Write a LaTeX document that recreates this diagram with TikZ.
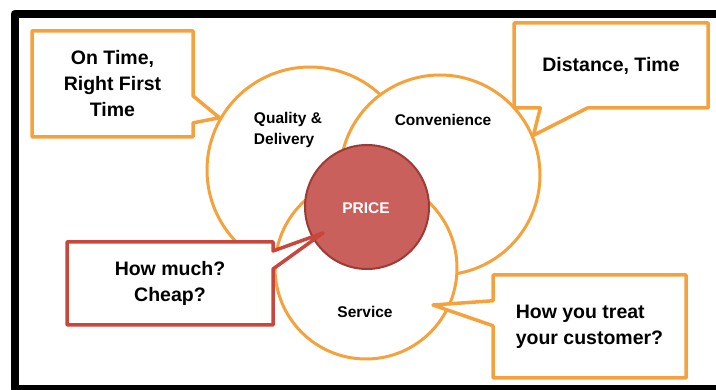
\documentclass[tikz,border=0pt]{standalone}
\usepackage{fontspec}
\setmainfont{Liberation Sans}
\usetikzlibrary{shapes.callouts}
\definecolor{ringorange}{HTML}{F5A23C}
\definecolor{pricefill}{HTML}{C9605C}
\definecolor{priceline}{HTML}{9E3A34}
\definecolor{boxred}{HTML}{C8463C}

\begin{document}
\begin{tikzpicture}[x=1pt,y=-1pt,line width=3pt,line join=round,
  ring/.style={circle,draw=ringorange,fill=white,inner sep=0pt},
  lbl/.style={font=\fontsize{15.5}{21}\selectfont\bfseries,align=center,inner sep=0pt},
  note/.style={rectangle callout,draw=ringorange,fill=white,line width=3.5pt,
    font=\fontsize{19.5}{26}\selectfont\bfseries,align=center,inner sep=0pt}]
  \useasboundingbox (0,0) rectangle (716,390);
  \draw[line width=8pt] (14.5,14) rectangle (740,389);

  % the four circles
  \node[ring,minimum size=206pt] (Q) at (310,170) {};
  \node[ring,minimum size=200pt] (C) at (440,175) {};
  \node[ring,minimum size=182pt] (S) at (366,268) {};
  \node[circle,draw=priceline,fill=pricefill,line width=2pt,minimum size=124pt] (P) at (367,207) {};

  \node[lbl,align=left] (Qtext) at (288,130) {Quality \&\\Delivery};
  \node[lbl] (Ctext) at (443,120) {Convenience};
  \node[lbl] (Stext) at (365,312) {Service};
  \node[lbl,text=white] (Ptext) at (366,208) {PRICE};

  % callouts
  \coordinate (tipP) at (323,233);
  \coordinate (tipS) at (433,305);
  \node[note,minimum width=161pt,minimum height=106pt,callout pointer width=27pt,
    callout absolute pointer={(Q.150)}] (onTime) at (112.5,84) {On Time,\\Right First\\Time};
  \node[note,minimum width=194pt,minimum height=85pt,callout pointer width=47pt,
    callout absolute pointer={(C.23)}] (distance) at (611,65.5) {Distance, Time};
  \node[note,draw=boxred,minimum width=206pt,minimum height=83pt,callout pointer width=18pt,
    callout absolute pointer={(tipP)}] (howMuch) at (170,283.5) {How much?\\Cheap?};
  \node[note,align=left,minimum width=193pt,minimum height=103pt,callout pointer width=25pt,
    callout absolute pointer={(tipS)}] (treat) at (589.5,326.5) {How you treat\\your customer?};
\end{tikzpicture}
\end{document}
